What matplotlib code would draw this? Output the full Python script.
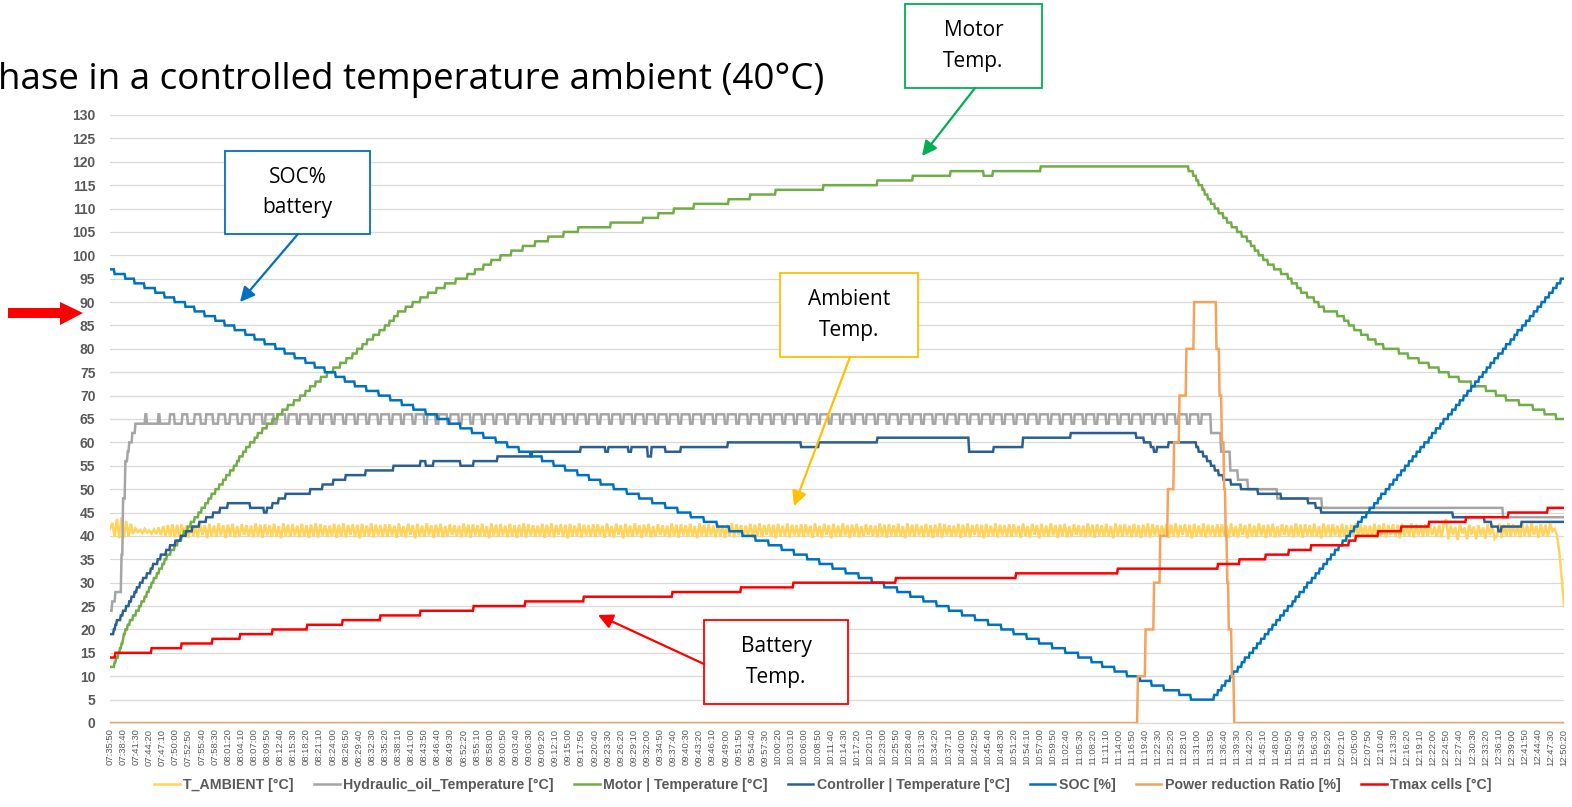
import numpy as np
import pandas as pd
import matplotlib
matplotlib.use("Agg")
import matplotlib.pyplot as plt
from matplotlib.patches import FancyArrowPatch, Rectangle, Polygon

# ---- data: elapsed minutes since 07:35:50, one logger sample every 10 s ----
t_start = "07:35:50"
t_stop = "12:50:20"

# step series given as (minute where the new value starts, value)
motor_steps = [
    (0.0, 12), (0.9, 13), (1.3, 14), (1.7, 15), (2.1, 16), (2.4, 17), (2.7, 18), (3.0, 19),
    (3.3, 20), (3.8, 21), (4.3, 22), (5.0, 23), (5.6, 24), (6.3, 25), (6.8, 26), (7.4, 27),
    (7.9, 28), (8.4, 29), (9.0, 30), (9.5, 31), (10.1, 32), (10.6, 33), (11.2, 34), (11.7, 35),
    (12.3, 36), (13.1, 37), (13.9, 38), (14.6, 39), (15.4, 40), (16.0, 41), (16.8, 42), (17.5, 43),
    (18.3, 44), (19.1, 45), (19.8, 46), (20.6, 47), (21.2, 48), (22.0, 49), (22.7, 50), (23.6, 51),
    (24.4, 52), (25.1, 53), (26.0, 54), (26.7, 55), (27.4, 56), (28.0, 57), (28.7, 58), (29.4, 59),
    (30.3, 60), (31.2, 61), (32.0, 62), (32.9, 63), (34.0, 64), (35.1, 65), (36.2, 66), (37.2, 67),
    (38.5, 68), (39.8, 69), (41.1, 70), (42.2, 71), (43.3, 72), (44.4, 73), (45.6, 74), (47.0, 75),
    (48.3, 76), (49.8, 77), (51.1, 78), (52.4, 79), (53.5, 80), (54.6, 81), (55.6, 82), (56.9, 83),
    (58.2, 84), (59.5, 85), (60.4, 86), (61.5, 87), (62.3, 88), (63.9, 89), (65.4, 90), (67.1, 91),
    (68.8, 92), (70.6, 93), (72.5, 94), (74.7, 95), (77.3, 96), (79.0, 97), (80.7, 98), (82.5, 99),
    (84.4, 100), (86.8, 101), (89.2, 102), (92.0, 103), (94.8, 104), (98.1, 105), (101.3, 106),
    (108.2, 107), (115.2, 108), (118.6, 109), (121.9, 110), (126.2, 111), (133.8, 112), (138.5, 113),
    (143.9, 114), (154.3, 115), (166.0, 116), (173.6, 117), (181.8, 118), (189.0, 117), (190.9, 118),
    (201.3, 119), (233.3, 118), (234.2, 117), (234.9, 116), (235.5, 115), (236.2, 114), (236.8, 113),
    (237.4, 112), (238.1, 111), (239.0, 110), (239.8, 109), (240.7, 108), (241.6, 107), (242.6, 106),
    (243.7, 105), (244.8, 104), (245.9, 103), (246.8, 102), (247.6, 101), (248.5, 100), (249.4, 99),
    (250.4, 98), (251.7, 97), (253.3, 96), (254.8, 95), (255.6, 94), (256.7, 93), (257.6, 92),
    (258.9, 91), (260.4, 90), (261.5, 89), (262.6, 88), (265.4, 87), (266.9, 86), (268.0, 85),
    (269.1, 84), (270.6, 83), (272.1, 82), (273.8, 81), (275.5, 80), (278.8, 79), (280.7, 78),
    (283.1, 77), (285.3, 76), (287.5, 75), (289.6, 74), (291.8, 73), (294.4, 72), (297.6, 71),
    (299.8, 70), (302.0, 69), (304.8, 68), (307.8, 67), (310.2, 66), (312.8, 65),
]

controller_steps = [
    (0.0, 19), (0.7, 20), (1.1, 21), (1.5, 22), (2.2, 23), (2.8, 24), (3.5, 25), (4.1, 26),
    (4.6, 27), (5.2, 28), (5.8, 29), (6.5, 30), (7.1, 31), (8.0, 32), (8.7, 33), (9.3, 34),
    (10.2, 35), (11.0, 36), (12.1, 37), (13.0, 38), (14.1, 39), (15.2, 40), (16.5, 41), (17.8, 42),
    (19.3, 43), (20.8, 44), (22.3, 45), (23.8, 46), (25.5, 47), (30.3, 46), (33.3, 45), (34.0, 46),
    (35.1, 47), (36.4, 48), (37.9, 49), (43.3, 50), (45.9, 51), (48.3, 52), (50.9, 53), (55.2, 54),
    (61.3, 55), (67.1, 56), (68.2, 55), (69.9, 56), (75.8, 55), (78.6, 56), (83.8, 57), (91.3, 58),
    (101.7, 59), (107.1, 58), (107.8, 59), (112.1, 58), (112.8, 59), (116.2, 57), (117.1, 59),
    (120.1, 58), (123.4, 59), (133.6, 60), (149.4, 59), (153.3, 60), (166.0, 61), (185.7, 58),
    (191.1, 59), (197.4, 61), (207.8, 62), (221.9, 61), (223.6, 60), (225.1, 59), (225.8, 58),
    (226.4, 59), (229.0, 60), (234.9, 59), (235.5, 58), (236.4, 57), (237.2, 56), (238.1, 55),
    (239.0, 54), (239.8, 53), (240.7, 52), (242.4, 51), (244.6, 50), (248.3, 49), (253.3, 48),
    (259.1, 47), (260.8, 46), (261.9, 45), (290.5, 44), (297.2, 43), (298.7, 42), (300.2, 41),
    (300.9, 42), (305.2, 43),
]

soc_steps = [
    (0.0, 97), (1.0, 96), (3.2, 95), (5.3, 94), (7.5, 93), (9.7, 92), (11.8, 91), (14.0, 90),
    (16.2, 89), (18.3, 88), (20.5, 87), (22.7, 86), (24.8, 85), (27.0, 84), (29.2, 83), (31.3, 82),
    (33.5, 81), (35.7, 80), (37.8, 79), (40.0, 78), (42.2, 77), (44.3, 76), (46.5, 75), (48.7, 74),
    (50.8, 73), (53.0, 72), (55.5, 71), (58.1, 70), (60.6, 69), (63.1, 68), (65.6, 67), (68.2, 66),
    (70.7, 65), (73.2, 64), (75.8, 63), (78.3, 62), (80.8, 61), (83.4, 60), (85.9, 59), (88.4, 58),
    (90.9, 57), (93.5, 56), (96.0, 55), (98.5, 54), (101.1, 53), (103.6, 52), (106.1, 51),
    (108.9, 50), (111.7, 49), (114.5, 48), (117.3, 47), (120.1, 46), (122.8, 45), (125.6, 44),
    (128.4, 43), (131.2, 42), (134.0, 41), (136.8, 40), (139.6, 39), (142.4, 38), (145.2, 37),
    (148.0, 36), (150.7, 35), (153.5, 34), (156.3, 33), (159.1, 32), (161.9, 31), (164.7, 30),
    (167.5, 29), (170.3, 28), (173.1, 27), (175.9, 26), (178.7, 25), (181.5, 24), (184.3, 23),
    (187.1, 22), (189.9, 21), (192.7, 20), (195.4, 19), (198.2, 18), (201.0, 17), (203.8, 16),
    (206.6, 15), (209.4, 14), (212.2, 13), (214.6, 12), (217.2, 11), (220.0, 10), (222.8, 9),
    (225.2, 8), (228.0, 7), (231.2, 6), (233.8, 5),
    (238.8, 6), (239.6, 7), (240.5, 8), (241.3, 9), (242.2, 10), (243.0, 11), (243.9, 12),
    (244.7, 13), (245.5, 14), (246.4, 15), (247.2, 16), (248.1, 17), (248.9, 18), (249.8, 19),
    (250.6, 20), (251.4, 21), (252.3, 22), (253.1, 23), (254.0, 24), (254.8, 25), (255.7, 26),
    (256.5, 27), (257.3, 28), (258.2, 29), (259.0, 30), (259.9, 31), (260.7, 32), (261.6, 33),
    (262.4, 34), (263.2, 35), (264.1, 36), (264.9, 37), (265.8, 38), (266.6, 39), (267.5, 40),
    (268.3, 41), (269.1, 42), (270.0, 43), (270.8, 44), (271.7, 45), (272.5, 46), (273.4, 47),
    (274.2, 48), (275.0, 49), (275.9, 50), (276.7, 51), (277.6, 52), (278.4, 53), (279.3, 54),
    (280.1, 55), (280.9, 56), (281.8, 57), (282.6, 58), (283.5, 59), (284.3, 60), (285.2, 61),
    (286.0, 62), (286.8, 63), (287.7, 64), (288.5, 65), (289.4, 66), (290.2, 67), (291.1, 68),
    (291.9, 69), (292.7, 70), (293.6, 71), (294.4, 72), (295.3, 73), (296.1, 74), (297.0, 75),
    (297.8, 76), (298.6, 77), (299.5, 78), (300.3, 79), (301.2, 80), (302.0, 81), (302.9, 82),
    (303.7, 83), (304.5, 84), (305.4, 85), (306.2, 86), (307.1, 87), (307.9, 88), (308.8, 89),
    (309.6, 90), (310.4, 91), (311.3, 92), (312.1, 93), (313.0, 94), (313.8, 95),
]

power_steps = [
    (0.0, 0), (222.3, 10), (224.0, 20), (225.8, 30), (227.1, 40), (228.8, 50), (230.1, 60),
    (231.2, 70), (232.7, 80), (234.4, 90), (239.2, 80), (240.0, 70), (240.5, 60), (240.9, 50),
    (241.2, 40), (241.6, 30), (242.0, 20), (242.6, 10), (243.1, 0),
]

tmax_steps = [
    (0.0, 14), (1.1, 15), (8.9, 16), (15.4, 17), (22.1, 18), (28.1, 19), (35.1, 20), (42.6, 21),
    (50.2, 22), (58.4, 23), (67.1, 24), (78.6, 25), (89.8, 26), (102.4, 27), (121.6, 28),
    (136.4, 29), (147.8, 30), (169.9, 31), (195.9, 32), (218.0, 33), (239.6, 34), (244.2, 35),
    (250.0, 36), (255.0, 37), (259.7, 38), (268.0, 39), (269.5, 40), (274.3, 41), (279.2, 42),
    (285.3, 43), (293.3, 44), (302.4, 45), (311.0, 46),
]

# hydraulic oil: warm-up, then thermostat cycling 64/66, then cool-down
hyd_warmup = [(0.0, 24), (0.4, 26), (1.1, 28), (2.4, 36), (2.8, 48), (3.2, 56), (3.7, 58),
              (4.1, 60), (4.8, 62), (5.4, 64)]
hyd_cycles = [  # (minute it goes up to 66, minute it falls back to 64)
    (7.6, 7.9), (10.4, 10.7), (13.0, 14.0), (15.6, 16.8), (18.2, 19.6), (20.8, 22.3),
    (23.4, 24.9), (26.0, 27.6), (28.6, 30.2), (31.1, 32.9), (33.6, 35.4), (36.1, 37.9),
    (38.6, 40.4), (41.1, 42.9), (43.6, 45.4), (46.1, 47.9), (48.6, 50.4), (51.1, 52.9),
    (53.6, 55.4), (56.1, 57.9), (58.6, 60.4), (61.1, 62.9), (63.6, 65.4), (66.1, 67.9),
    (68.6, 70.4), (71.1, 72.9), (73.6, 75.4), (76.1, 77.9), (78.6, 80.4), (81.1, 82.9),
    (83.6, 85.4), (86.1, 87.9), (88.6, 90.4), (91.1, 92.9), (93.6, 95.4), (96.1, 97.9),
    (98.6, 100.4), (101.1, 102.9), (103.6, 105.4), (106.1, 107.9), (108.6, 110.4), (111.1, 112.9),
    (113.6, 115.4), (116.1, 117.9), (118.6, 120.4), (121.1, 122.9), (123.6, 125.4), (126.1, 127.9),
    (128.6, 130.4), (131.1, 132.9), (133.6, 135.4), (136.1, 137.9), (138.6, 140.4), (141.1, 142.9),
    (143.6, 145.4), (146.1, 147.9), (148.6, 150.4), (151.1, 152.9), (153.6, 155.4), (156.1, 157.9),
    (158.6, 160.4), (161.1, 162.9), (163.6, 165.4), (166.1, 167.9), (168.6, 170.4), (171.1, 172.9),
    (173.6, 175.4), (176.1, 177.9), (178.6, 180.4), (181.1, 182.9), (183.6, 185.4), (186.1, 187.9),
    (188.6, 190.4), (191.1, 192.9), (193.6, 195.4), (196.1, 197.9), (198.6, 200.4), (201.1, 202.9),
    (203.6, 205.4), (206.1, 207.9), (208.6, 210.4), (211.1, 212.9), (213.6, 215.4), (216.1, 217.9),
    (218.6, 220.4), (221.1, 222.9), (223.6, 225.4), (226.1, 227.9), (228.6, 230.4), (231.1, 232.9),
    (233.6, 235.4), (236.1, 238.1),
]
hyd_cooldown = [(238.1, 62), (240.3, 58), (242.2, 54), (244.0, 52), (246.1, 50), (252.4, 48),
                (262.1, 46), (301.3, 44)]

# ambient readings, every 30 s
ambient = [
    41.5, 42.8, 39.8, 43.6, 39.5, 44.0, 39.6, 43.2, 40.0, 42.6, 40.4, 41.6, 40.8, 41.3, 40.6,
    41.5, 40.7, 41.2, 40.5, 41.4, 40.4, 41.8, 40.2, 42.1, 40.0, 42.3, 39.8, 42.5, 39.7, 42.4,
    39.8, 42.5, 40.1, 42.2, 39.6, 42.7, 40.0, 42.1, 39.7, 42.6, 40.2, 42.3, 39.5, 42.6, 39.9,
    42.2, 39.8, 42.7, 40.1, 42.3, 39.6, 42.4, 40.0, 42.6, 39.7, 42.1, 39.9, 42.5, 40.2, 42.3,
    39.9, 42.2, 39.7, 42.7, 40.0, 42.4, 39.6, 42.5, 40.1, 42.3, 39.8, 42.6, 39.9, 42.1, 39.5,
    42.7, 40.0, 42.4, 39.8, 42.5, 40.1, 42.2, 39.7, 42.6, 39.9, 42.3, 39.6, 42.4, 40.0, 42.7,
    39.7, 42.5, 40.1, 42.3, 39.8, 42.2, 40.0, 42.6, 39.6, 42.4, 39.9, 42.7, 39.7, 42.3, 40.2,
    42.5, 39.8, 42.4, 39.5, 42.6, 40.0, 42.2, 39.9, 42.7, 39.7, 42.4, 40.1, 42.3, 39.8, 42.5,
    39.8, 42.5, 40.1, 42.2, 39.6, 42.7, 40.0, 42.1, 39.7, 42.6, 40.2, 42.3, 39.5, 42.6, 39.9,
    42.2, 39.8, 42.7, 40.1, 42.3, 39.6, 42.4, 40.0, 42.6, 39.7, 42.1, 39.9, 42.5, 40.2, 42.3,
    39.9, 42.2, 39.7, 42.7, 40.0, 42.4, 39.6, 42.5, 40.1, 42.3, 39.8, 42.6, 39.9, 42.1, 39.5,
    42.7, 40.0, 42.4, 39.8, 42.5, 40.1, 42.2, 39.7, 42.6, 39.9, 42.3, 39.6, 42.4, 40.0, 42.7,
    39.7, 42.5, 40.1, 42.3, 39.8, 42.2, 40.0, 42.6, 39.6, 42.4, 39.9, 42.7, 39.7, 42.3, 40.2,
    42.5, 39.8, 42.4, 39.5, 42.6, 40.0, 42.2, 39.9, 42.7, 39.7, 42.4, 40.1, 42.3, 39.8, 42.5,
    39.8, 42.5, 40.1, 42.2, 39.6, 42.7, 40.0, 42.1, 39.7, 42.6, 40.2, 42.3, 39.5, 42.6, 39.9,
    42.2, 39.8, 42.7, 40.1, 42.3, 39.6, 42.4, 40.0, 42.6, 39.7, 42.1, 39.9, 42.5, 40.2, 42.3,
    39.9, 42.2, 39.7, 42.7, 40.0, 42.4, 39.6, 42.5, 40.1, 42.3, 39.8, 42.6, 39.9, 42.1, 39.5,
    42.7, 40.0, 42.4, 39.8, 42.5, 40.1, 42.2, 39.7, 42.6, 39.9, 42.3, 39.6, 42.4, 40.0, 42.7,
    39.7, 42.5, 40.1, 42.3, 39.8, 42.2, 40.0, 42.6, 39.6, 42.4, 39.9, 42.7, 39.7, 42.3, 40.2,
    42.5, 39.8, 42.4, 39.5, 42.6, 40.0, 42.2, 39.9, 42.7, 39.7, 42.4, 40.1, 42.3, 39.8, 42.5,
    39.8, 42.5, 40.1, 42.2, 39.6, 42.7, 40.0, 42.1, 39.7, 42.6, 40.2, 42.3, 39.5, 42.6, 39.9,
    42.2, 39.8, 42.7, 40.1, 42.3, 39.6, 42.4, 40.0, 42.6, 39.7, 42.1, 39.9, 42.5, 40.2, 42.3,
    39.9, 42.2, 39.7, 42.7, 40.0, 42.4, 39.6, 42.5, 40.1, 42.3, 39.8, 42.6, 39.9, 42.1, 39.5,
    42.7, 40.0, 42.4, 39.8, 42.5, 40.1, 42.2, 39.7, 42.6, 39.9, 42.3, 39.6, 42.4, 40.0, 42.7,
    39.7, 42.5, 40.1, 42.3, 39.8, 42.2, 40.0, 42.6, 39.6, 42.4, 39.9, 42.7, 39.7, 42.3, 40.2,
    42.5, 39.8, 42.4, 39.5, 42.6, 40.0, 42.2, 39.9, 42.7, 39.7, 42.4, 40.1, 42.3, 39.8, 42.5,
    39.8, 42.5, 40.1, 42.2, 39.6, 42.7, 40.0, 42.1, 39.7, 42.6, 40.2, 42.3, 39.5, 42.6, 39.9,
    42.2, 39.8, 42.7, 40.1, 42.3, 39.6, 42.4, 40.0, 42.6, 39.7, 42.1, 39.9, 42.5, 40.2, 42.3,
    39.9, 42.2, 39.7, 42.7, 40.0, 42.4, 39.6, 42.5, 40.1, 42.3, 39.8, 42.6, 39.9, 42.1, 39.5,
    42.7, 40.0, 42.4, 39.8, 42.5, 40.1, 42.2, 39.7, 42.6, 39.9, 42.3, 39.6, 42.4, 40.0, 42.7,
    39.7, 42.5, 40.1, 42.3, 39.8, 42.2, 40.0, 42.6, 39.6, 42.4, 39.9, 42.7, 39.7, 42.3, 40.2,
    42.5, 39.8, 42.4, 39.5, 42.6, 40.0, 42.2, 39.9, 42.7, 39.7, 42.4, 40.1, 42.3, 39.8, 42.5,
    39.8, 42.5, 40.1, 42.2, 39.6, 42.7, 40.0, 42.1, 39.7, 42.6, 40.2, 42.3, 39.5, 42.6, 39.9,
    42.2, 39.8, 42.7, 40.1, 42.3, 39.6, 42.4, 40.0, 42.6, 39.7, 42.1, 39.9, 42.5, 40.2, 42.3,
    39.9, 42.2, 39.7, 42.7, 40.0, 42.4, 39.6, 42.5, 40.1, 42.3, 39.8, 42.6, 39.9, 42.1, 39.5,
    42.7, 40.0, 42.4, 39.8, 42.5, 40.1, 42.2, 39.7, 42.6, 39.9, 42.3, 39.6, 42.4, 40.0, 42.7,
    39.7, 42.5, 40.1, 42.3, 39.8, 42.2, 40.0, 42.6, 39.6, 42.4, 39.9, 42.7, 39.7, 42.3, 40.2,
    42.5, 39.8, 42.4, 39.5, 42.6, 40.0, 42.2, 39.9, 42.7, 39.7, 42.4, 40.1, 42.3, 39.8, 42.5,
    40.0, 42.4, 40.2, 42.0, 39.8, 42.3, 39.7, 42.5, 43.6, 39.3, 42.2, 40.2, 41.9, 39.2, 42.4,
    40.5, 41.8, 39.3, 42.4, 40.3, 42.0, 39.3, 42.3, 40.1, 41.8, 39.4, 42.5, 40.2, 42.1, 39.4,
    40.0, 42.6, 39.6, 42.4, 39.9, 42.7, 39.8, 42.5, 40.1, 42.3, 39.7, 42.6, 40.0, 42.4, 39.8,
    42.7, 40.2, 42.2, 39.6, 42.5, 40.0, 42.4, 39.8, 42.6, 41.0, 41.5, 40.0, 36.5, 31.0, 25.0,
]

series_names = ["T_AMBIENT [°C]", "Hydraulic_oil_Temperature [°C]", "Motor | Temperature [°C]",
                "Controller | Temperature [°C]", "SOC [%]", "Power reduction Ratio [%]",
                "Tmax cells [°C]"]
series_colors = ["#FFD35C", "#A5A5A5", "#70AD47", "#2A5F92", "#0070C0", "#F5A35C", "#FF0000"]

# ---- build sampled series ----
t0 = pd.Timestamp("2000-01-01 " + t_start)
t1 = pd.Timestamp("2000-01-01 " + t_stop)
t_end = (t1 - t0).total_seconds() / 60
t = np.arange(0, (t1 - t0).total_seconds() + 1, 10) / 60


def sample_steps(steps):
    st = np.array(steps, dtype=float)
    idx = np.searchsorted(st[:, 0], t, side="right") - 1
    return st[idx, 1]


hyd_steps = list(hyd_warmup)
for up, down in hyd_cycles:
    hyd_steps += [(up, 66), (down, 64)]
hyd_steps = hyd_steps[:-1] + hyd_cooldown  # last cycle runs straight into cool-down

amb_t = np.linspace(0, t_end, len(ambient))
curves = [
    (amb_t, np.array(ambient)),
    (t, sample_steps(hyd_steps)),
    (t, sample_steps(motor_steps)),
    (t, sample_steps(controller_steps)),
    (t, sample_steps(soc_steps)),
    (t, sample_steps(power_steps)),
    (t, sample_steps(tmax_steps)),
]

tick_times = pd.date_range(t0, t1, freq="170s")
tick_pos = (tick_times - t0).total_seconds() / 60
tick_labels = tick_times.strftime("%H:%M:%S")

# ---- figure ----
W, H = 1572, 807
fig = plt.figure(figsize=(W / 100, H / 100), dpi=100)
ax = fig.add_axes([110 / W, 84 / H, 1454 / W, 608 / H])

for (x, y), name, col in zip(curves, series_names, series_colors):
    ax.plot(x, y, color=col, lw=1.8, label=name, solid_joinstyle="miter")

ax.set_xlim(0, t_end)
ax.set_ylim(0, 130)
ax.set_yticks(np.arange(0, 131, 5))
ax.set_xticks(tick_pos)
ax.set_xticklabels(tick_labels, rotation=90, fontsize=6.8, color="#595959",
                   family="Liberation Sans")
for lab in ax.get_yticklabels():
    lab.set_fontweight("bold")
    lab.set_fontsize(10)
    lab.set_color("#595959")
    lab.set_family("Liberation Sans")
ax.tick_params(axis="y", length=0, pad=10.5)
ax.tick_params(axis="x", length=0, pad=4)
ax.grid(axis="y", color="#D9D9D9", lw=0.9)
ax.set_axisbelow(True)
for s in ["top", "right", "left"]:
    ax.spines[s].set_visible(False)
ax.spines["bottom"].set_color("#D9D9D9")

leg = fig.legend(loc="center", bbox_to_anchor=(823 / W, 1 - 785 / H), ncol=7, frameon=False,
                 handlelength=1.8, handletextpad=0.25, columnspacing=1.43,
                 prop={"family": "Liberation Sans", "weight": "bold", "size": 10.2})
for txt in leg.get_texts():
    txt.set_color("#595959")

# ---- title and callouts (figure pixel layout) ----
def fx(px):
    return px / W


def fy(py):
    return 1 - py / H


fig.text(fx(-2), fy(80), "hase in a controlled temperature ambient (40°C)", fontsize=26.5,
         family="Open Sans", ha="left", va="center", color="#000000")

callouts = [
    ("SOC%\nbattery", (225, 151, 370, 234), "#0070C0", (298, 234), (240, 302)),
    ("Motor\nTemp.", (905, 4, 1042, 88), "#00B050", (975, 88), (922, 156)),
    ("Ambient\nTemp.", (780, 273, 918, 357), "#FFC000", (850, 357), (794, 506)),
    ("Battery\nTemp.", (704, 620, 848, 704), "#FF0000", (704, 664), (598, 615)),
]
for label, (x0, y0, x1, y1), col, p_from, p_to in callouts:
    fig.add_artist(Rectangle((fx(x0), fy(y1)), fx(x1) - fx(x0), fy(y0) - fy(y1),
                             transform=fig.transFigure, facecolor="white", edgecolor=col,
                             lw=1.3, zorder=5))
    fig.text(fx((x0 + x1) / 2), fy((y0 + y1) / 2), label, ha="center", va="center",
             fontsize=15, family="Open Sans", linespacing=1.6, zorder=6)
    fig.add_artist(FancyArrowPatch(posA=(fx(p_from[0]), fy(p_from[1])),
                                   posB=(fx(p_to[0]), fy(p_to[1])),
                                   transform=fig.transFigure, arrowstyle="-|>",
                                   mutation_scale=22, color=col, lw=1.6,
                                   shrinkA=0, shrinkB=0, zorder=6))

# big red pointer on the left
arrow_px = [(8, 308), (60, 308), (60, 302), (83, 313), (60, 325), (60, 318), (8, 318)]
fig.add_artist(Polygon([(fx(a), fy(b)) for a, b in arrow_px], closed=True,
                       transform=fig.transFigure, facecolor="#FF0000", edgecolor="none"))

fig.savefig("out.png", dpi=100)
